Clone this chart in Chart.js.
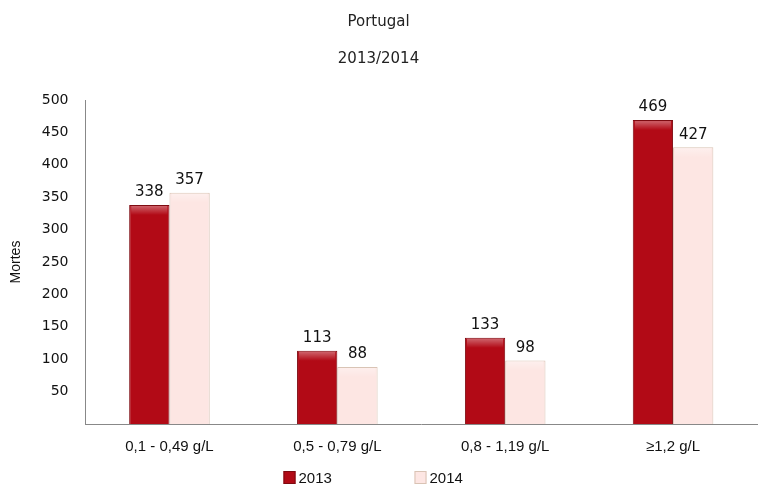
<!DOCTYPE html>
<html>
<head>
<meta charset="utf-8">
<script src="https://cdn.jsdelivr.net/npm/chart.js@4/dist/chart.umd.min.js"></script>
<style>
  html, body { margin: 0; padding: 0; background: #fff; }
  #wrap { width: 769px; height: 486px; }
</style>
</head>
<body>
<div id="wrap"><canvas id="chart" width="769" height="486"></canvas></div>
<script>
// dados
const categorias = ["0,1 - 0,49 g/L", "0,5 - 0,79 g/L", "0,8 - 1,19 g/L", "≥1,2 g/L"];
const mortes2013 = [338, 113, 133, 469];
const mortes2014 = [357, 88, 98, 427];
const ticksY = [50, 100, 150, 200, 250, 300, 350, 400, 450, 500];

const RED = "#b20a16";
const PINK = "#fde6e3";
const RED_EDGE = "#7d0a10";
const PINK_EDGE = "#d9c3b4";

// gradiente horizontal para dar o efeito "3D" das barras
function barFill(base, edge) {
  return (ctx) => {
    const el = ctx.element;
    const c = ctx.chart.ctx;
    if (!el || el.x === undefined || !el.width) return base;
    const x0 = el.x - el.width / 2, x1 = el.x + el.width / 2;
    const g = c.createLinearGradient(x0, 0, x1, 0);
    g.addColorStop(0, edge);
    g.addColorStop(0.1, base);
    g.addColorStop(0.85, base);
    g.addColorStop(1, edge);
    return g;
  };
}

// rótulos de valor por cima das barras
const valueLabels = {
  id: "valueLabels",
  afterDatasetsDraw(chart) {
    const ctx = chart.ctx;
    ctx.save();
    ctx.font = "15px 'DejaVu Sans', sans-serif";
    ctx.fillStyle = "#111";
    ctx.textAlign = "center";
    ctx.textBaseline = "bottom";
    chart.data.datasets.forEach((ds, i) => {
      chart.getDatasetMeta(i).data.forEach((bar, j) => {
        ctx.fillText(ds.data[j], bar.x, bar.y - 5);
      });
    });
    ctx.restore();
  }
};

// realce no topo de cada barra (bisel)
const bevel = {
  id: "bevel",
  afterDatasetsDraw(chart) {
    const ctx = chart.ctx;
    ctx.save();
    chart.data.datasets.forEach((ds, i) => {
      chart.getDatasetMeta(i).data.forEach((bar) => {
        const x0 = bar.x - bar.width / 2;
        const g = ctx.createLinearGradient(0, bar.y, 0, bar.y + 10);
        g.addColorStop(0, "rgba(255,255,255,0.4)");
        g.addColorStop(1, "rgba(255,255,255,0)");
        ctx.fillStyle = g;
        ctx.fillRect(x0 + 2, bar.y + 1, bar.width - 4, 10);
      });
    });
    ctx.restore();
  }
};

// legenda desenhada à mão (espaçamento largo como no original)
const bottomLegend = {
  id: "bottomLegend",
  afterDraw(chart) {
    const ctx = chart.ctx;
    const y = chart.height - 8;
    let x = chart.width / 2 - 101;
    ctx.save();
    ctx.font = "15px 'Liberation Sans', sans-serif";
    ctx.textBaseline = "middle";
    ctx.textAlign = "left";
    chart.data.datasets.forEach((ds, i) => {
      ctx.fillStyle = i === 0 ? RED : PINK;
      ctx.strokeStyle = i === 0 ? RED_EDGE : PINK_EDGE;
      ctx.lineWidth = 1;
      ctx.fillRect(x, y - 7, 12, 13);
      ctx.strokeRect(x + 0.5, y - 6.5, 11, 12);
      ctx.fillStyle = "#111";
      ctx.fillText(ds.label, x + 15, y + 1);
      x += 131;
    });
    ctx.restore();
  }
};

new Chart(document.getElementById("chart"), {
  type: "bar",
  data: {
    labels: categorias,
    datasets: [
      {
        label: "2013",
        data: mortes2013,
        backgroundColor: barFill(RED, "#8a0610"),
        borderColor: RED_EDGE,
        borderWidth: 1,
        barPercentage: 1,
        categoryPercentage: 0.48
      },
      {
        label: "2014",
        data: mortes2014,
        backgroundColor: barFill(PINK, "#e8cbc6"),
        borderColor: PINK_EDGE,
        borderWidth: 1,
        barPercentage: 1,
        categoryPercentage: 0.48
      }
    ]
  },
  options: {
    responsive: false,
    animation: false,
    layout: { padding: { top: 0, right: 12, left: 0, bottom: 16 } },
    plugins: {
      title: {
        display: true,
        text: ["Portugal", "2013/2014"],
        color: "#222",
        font: { family: "'DejaVu Sans', sans-serif", size: 15, weight: "normal", lineHeight: 2.5 },
        padding: { top: 3, bottom: 22 }
      },
      legend: { display: false },
      tooltip: { enabled: false }
    },
    scales: {
      x: {
        grid: { display: false, drawTicks: false },
        border: { color: "#888", width: 1 },
        ticks: {
          color: "#111",
          padding: 14,
          font: { family: "'Liberation Sans', sans-serif", size: 15 }
        }
      },
      y: {
        min: 0,
        max: 500,
        afterBuildTicks(axis) {
          axis.ticks = ticksY.map(v => ({ value: v }));
        },
        grid: { display: false, drawTicks: false },
        border: { color: "#888", width: 1 },
        title: {
          display: true,
          text: "Mortes",
          color: "#111",
          font: { family: "'Liberation Sans', sans-serif", size: 14 },
          padding: { top: 8, bottom: 0 }
        },
        ticks: {
          color: "#111",
          padding: 17,
          font: { family: "'DejaVu Sans', sans-serif", size: 14 }
        }
      }
    }
  },
  plugins: [valueLabels, bevel, bottomLegend]
});
</script>
</body>
</html>
